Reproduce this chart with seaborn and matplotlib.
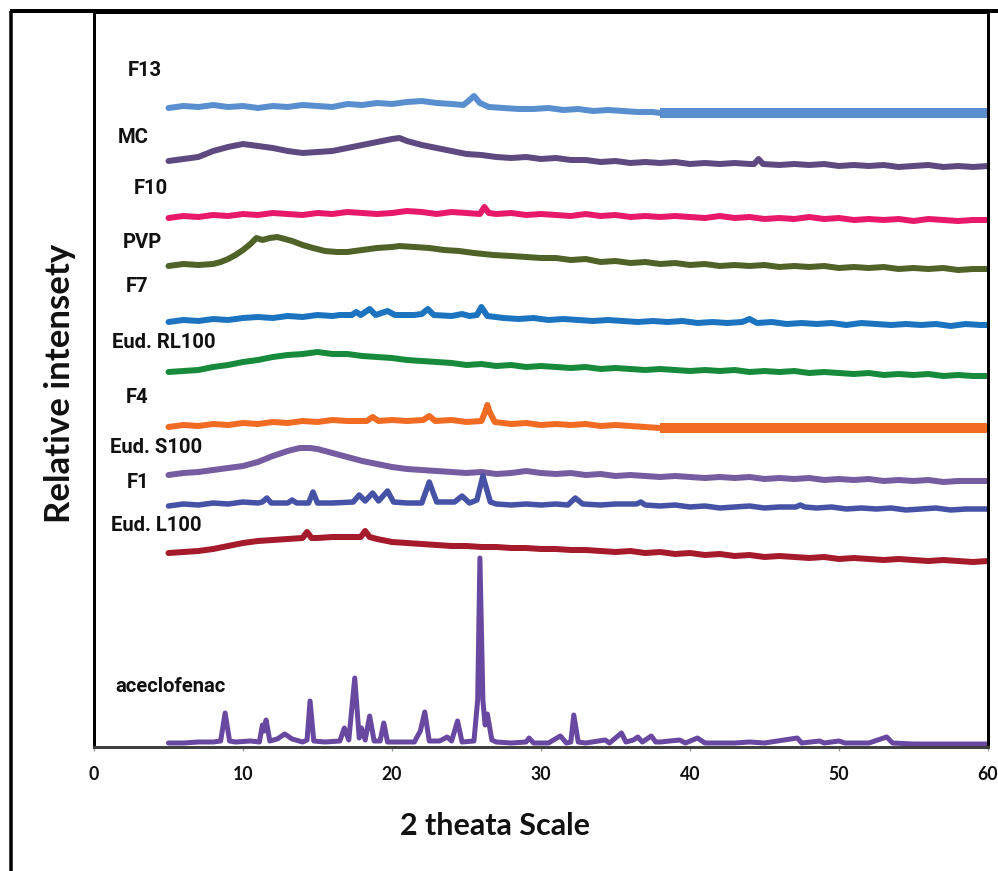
import matplotlib
matplotlib.use("Agg")
import matplotlib.pyplot as plt
import seaborn as sns
from matplotlib.lines import Line2D

# ---------------- data (2-theta in degrees, relative intensity incl. stacking offset) -------------
f13_theta = [5, 6, 7, 8, 9, 10, 11, 12, 13, 14, 15, 16, 17, 18, 19, 20, 21, 22, 23, 24, 24.8,
             25.2, 25.5, 25.9, 26.5, 27.5, 28.5, 29.5, 30.5, 31.5, 32.5, 33.5, 34.5, 35.5, 36.5, 37.5, 38]
f13_int = [639, 641, 640, 642, 640, 641, 639, 641, 640, 642, 641, 640, 643, 642, 644, 643, 645, 646,
           644, 643, 642, 647, 651, 644, 640, 639, 638, 638, 639, 637, 638, 636, 637, 636, 635, 635, 634]

mc_theta = [5, 6, 7, 8, 9, 10, 11, 12, 13, 14, 15, 16, 17, 18, 19, 20, 20.5, 21, 22, 23, 24, 25, 26,
            27, 28, 29, 30, 31, 32, 33, 34, 35, 36, 37, 38, 39, 40, 41, 42, 43, 44, 44.3, 44.6, 44.9,
            46, 47, 48, 49, 50, 51, 52, 53, 54, 55, 56, 57, 58, 59, 60]
mc_int = [586, 588, 590, 596, 600, 603, 601, 599, 596, 594, 595, 596, 599, 602, 605, 608, 609, 606,
          602, 599, 596, 593, 592, 590, 589, 590, 588, 589, 587, 587, 585, 586, 584, 585, 584, 585,
          583, 584, 583, 584, 583, 583, 588, 583, 582, 583, 582, 583, 581, 582, 581, 582, 580, 581,
          582, 580, 581, 580, 581]

f10_theta = [5, 6, 7, 8, 9, 10, 11, 12, 13, 14, 15, 16, 17, 18, 19, 20, 21, 22, 23, 24, 25, 25.9,
             26.2, 26.5, 27, 28, 29, 30, 31, 32, 33, 34, 35, 36, 37, 38, 39, 40, 41, 42, 43, 44, 45,
             46, 47, 48, 49, 50, 51, 52, 53, 54, 55, 56, 57, 58, 59, 60]
f10_int = [529, 531, 530, 532, 531, 533, 532, 534, 533, 532, 534, 533, 535, 534, 533, 534, 536, 535,
           533, 535, 534, 533, 540, 534, 533, 534, 532, 533, 532, 531, 533, 531, 532, 530, 531, 530,
           531, 530, 529, 531, 529, 530, 528, 529, 528, 530, 528, 529, 527, 528, 527, 528, 526, 528,
           527, 526, 527, 527]

pvp_theta = [5, 6, 7, 8, 8.5, 9, 9.5, 10, 10.5, 10.9, 11.3, 11.8, 12.3, 12.8, 13.3, 14, 14.7, 15.5,
             16.3, 17, 18, 19, 20, 20.5, 21.5, 22.5, 23.5, 24.5, 25.5, 26.8, 28, 29, 30, 31, 32, 33,
             34, 35, 36, 37, 38, 39, 40, 41, 42, 43, 44, 45, 46, 47, 48, 49, 50, 51, 52, 53, 54, 55,
             56, 57, 58, 59, 60]
pvp_int = [481, 483, 482, 483, 485, 488, 492, 497, 503, 509, 507, 509, 510, 508, 506, 502, 499, 496,
           495, 495, 497, 499, 500, 501, 500, 499, 497, 496, 494, 492, 491, 490, 489, 489, 487, 488,
           485, 486, 484, 485, 483, 484, 482, 483, 481, 482, 481, 482, 480, 481, 480, 481, 479, 480,
           479, 480, 478, 479, 478, 479, 477, 478, 478]

f7_theta = [5, 6, 7, 8, 9, 10, 11, 12, 13, 14, 15, 16, 16.5, 17.3, 17.6, 17.9, 18.5, 18.9, 19.7,
            20.2, 21.5, 22, 22.4, 22.8, 24, 24.7, 25.2, 25.7, 26, 26.4, 27.5, 28.5, 29.5, 30.5, 31.5,
            32.5, 33.5, 34.5, 35.5, 36.5, 37.5, 38.5, 39.5, 40.5, 41.5, 42.5, 43.5, 44, 44.5, 45.5,
            46.5, 47.5, 48.5, 49.5, 50.5, 51.5, 52.5, 53.5, 54.5, 55.5, 56.5, 57.5, 58.5, 59.5, 60]
f7_int = [425, 427, 426, 428, 427, 429, 430, 429, 431, 430, 432, 431, 432, 432, 435, 432, 438, 432,
          436, 432, 432, 433, 438, 432, 431, 433, 431, 432, 440, 431, 429, 428, 429, 427, 428, 427,
          426, 427, 426, 425, 426, 425, 426, 424, 425, 424, 425, 428, 424, 425, 423, 424, 423, 424,
          422, 424, 423, 422, 423, 422, 423, 421, 423, 422, 422]

rl100_theta = [5, 6, 7, 8, 9, 10, 11, 12, 13, 14, 15, 16, 17, 18, 19, 20, 21, 22, 23, 24, 25, 26, 27,
               28, 29, 30, 31, 32, 33, 34, 35, 36, 37, 38, 39, 40, 41, 42, 43, 44, 45, 46, 47, 48, 49,
               50, 51, 52, 53, 54, 55, 56, 57, 58, 59, 60]
rl100_int = [375, 376, 377, 380, 382, 385, 387, 390, 392, 393, 395, 393, 393, 391, 390, 389, 387, 386,
             385, 384, 382, 383, 381, 382, 380, 381, 380, 379, 380, 378, 379, 378, 377, 378, 377, 376,
             377, 376, 377, 375, 376, 375, 376, 374, 375, 374, 373, 374, 372, 373, 372, 373, 371, 372,
             371, 371]

f4_theta = [5, 6, 7, 8, 9, 10, 11, 12, 13, 14, 15, 16, 17, 18.3, 18.7, 19.1, 20, 21, 22.1, 22.5, 22.9,
            24, 25, 26, 26.25, 26.4, 26.55, 26.9, 28, 29, 30, 31, 32, 33, 34, 35, 36, 37, 38]
f4_int = [320, 322, 321, 323, 322, 324, 323, 325, 324, 326, 325, 327, 326, 326, 330, 326, 327, 326,
          327, 331, 326, 327, 325, 326, 335, 342, 335, 325, 323, 324, 322, 323, 322, 323, 321, 322,
          321, 320, 319]

s100_theta = [5, 6, 7, 8, 9, 10, 11, 12, 13, 13.8, 14.5, 15, 16, 17, 18, 19, 20, 21, 22, 23, 24, 25,
              26, 27, 28, 29, 30, 31, 32, 33, 34, 35, 36, 37, 38, 39, 40, 41, 42, 43, 44, 45, 46, 47,
              48, 49, 50, 51, 52, 53, 54, 55, 56, 57, 58, 59, 60]
s100_int = [272, 274, 275, 277, 279, 281, 285, 291, 296, 299, 299, 298, 294, 290, 286, 283, 280, 278,
            277, 276, 275, 274, 275, 273, 274, 276, 274, 273, 274, 272, 273, 271, 272, 271, 270, 271,
            270, 269, 270, 269, 270, 268, 269, 268, 269, 267, 268, 267, 268, 266, 267, 266, 267, 265,
            266, 266, 266]

f1_theta = [5, 6, 7, 8, 9, 10, 11, 11.3, 11.6, 11.9, 13, 13.3, 13.6, 14.4, 14.7, 15.0, 16, 17.4, 17.8,
            18.2, 18.7, 19.1, 19.7, 20.1, 21, 22, 22.5, 23, 24.2, 24.7, 25.2, 25.7, 26.1, 26.6, 27,
            28, 29, 30, 31, 31.8, 32.3, 32.8, 34, 35, 36.4, 36.7, 37, 38, 39, 40, 41, 42, 43, 44, 45,
            46, 47.1, 47.4, 47.7, 48.5, 49.5, 50.5, 51.5, 52.5, 53.5, 54.5, 55.5, 56.5, 57.5, 58.5,
            59.5, 60]
f1_int = [241, 243, 242, 244, 243, 245, 244, 245, 249, 244, 244, 247, 244, 244, 255, 244, 244, 245,
          252, 246, 254, 246, 256, 245, 244, 244, 265, 245, 245, 251, 244, 247, 271, 245, 243, 242,
          243, 242, 243, 242, 249, 243, 242, 243, 243, 245, 242, 241, 242, 240, 241, 239, 240, 241,
          239, 240, 240, 242, 240, 239, 240, 238, 239, 238, 239, 237, 238, 239, 237, 238, 238, 238]

l100_theta = [5, 6, 7, 8, 9, 10, 11, 12, 13, 14, 14.3, 14.6, 15, 16, 17, 17.9, 18.2, 18.5, 19, 20, 21,
              22, 23, 24, 25, 26, 27, 28, 29, 30, 31, 32, 33, 34, 35, 36, 37, 38, 39, 40, 41, 42, 43,
              44, 45, 46, 47, 48, 49, 50, 51, 52, 53, 54, 55, 56, 57, 58, 59, 60]
l100_int = [194, 195, 196, 198, 201, 204, 206, 207, 208, 209, 215, 209, 209, 210, 210, 210, 216, 210,
            208, 205, 204, 203, 202, 201, 201, 200, 200, 199, 199, 198, 198, 197, 197, 196, 195, 196,
            194, 195, 193, 194, 192, 193, 191, 192, 190, 191, 190, 189, 190, 188, 189, 188, 187, 188,
            187, 186, 187, 186, 185, 186]

acf_theta = [5, 6, 7, 8, 8.5, 8.8, 9.1, 9.5, 10.5, 11.1, 11.3, 11.42, 11.55, 11.8, 12.3, 12.8, 13.3,
             14.0, 14.3, 14.5, 14.75, 15.5, 16.5, 16.8, 17.1, 17.5, 17.8, 17.95, 18.2, 18.5, 18.8,
             19.2, 19.45, 19.7, 20.5, 21.5, 21.9, 22.2, 22.5, 23.2, 23.7, 24.0, 24.4, 24.7, 25.5,
             25.75, 25.9, 26.1, 26.25, 26.4, 26.7, 27, 28, 29, 29.2, 29.5, 30.5, 31.3, 31.7, 32.0,
             32.2, 32.5, 33, 34.3, 34.6, 35.4, 35.7, 36.2, 36.5, 36.8, 37.4, 37.7, 38, 39.3, 39.7,
             40.5, 40.9, 41, 43, 44, 45, 47.2, 47.5, 48.7, 49, 50, 50.4, 52, 53.2, 53.6, 55, 57, 60]
acf_int = [4, 4, 5, 5, 6, 34, 6, 5, 6, 5, 22, 16, 27, 6, 8, 13, 8,
           5, 7, 46, 6, 5, 6, 19, 7, 69, 9, 19, 7, 31, 6,
           6, 24, 5, 5, 5, 16, 35, 6, 6, 10, 6, 26, 5, 6,
           47, 189, 47, 22, 33, 7, 5, 4, 5, 9, 4, 4, 11, 4, 5,
           32, 5, 4, 7, 4, 14, 5, 7, 10, 5, 11, 5, 5, 7, 4,
           9, 5, 4, 4, 5, 4, 9, 4, 6, 4, 6, 4, 4, 10, 4, 3, 3, 3]

names = ["F13", "MC", "F10", "PVP", "F7", "Eud. RL100", "F4", "Eud. S100", "F1", "Eud. L100",
         "aceclofenac"]
thetas = [f13_theta, mc_theta, f10_theta, pvp_theta, f7_theta, rl100_theta, f4_theta, s100_theta,
          f1_theta, l100_theta, acf_theta]
intens = [f13_int, mc_int, f10_int, pvp_int, f7_int, rl100_int, f4_int, s100_int, f1_int, l100_int,
          acf_int]
# traces whose recorded pattern stops early are continued by a flat bar up to this angle
bar_end = 60

# ---------------- styling --------------------------------------------------------------
colors = ["#5A8FCF", "#5E4A80", "#E8196A", "#4F6228", "#1C74C0", "#178A3B", "#F26B22",
          "#765CA0", "#4552A6", "#A51B2C", "#6848A0"]
widths_px = [6, 6, 6, 6, 6, 6, 6, 6, 5.5, 6, 5]
label_pos = [(2.28, 677), (1.61, 610), (2.68, 559), (1.95, 505), (2.15, 461), (1.21, 405),
             (2.15, 350), (1.07, 300), (2.21, 265), (1.14, 222), (1.41, 61)]

sns.set_theme(style="white")
plt.rcParams['font.family'] = ['Lato', 'DejaVu Sans']

W, H = 998, 871
fig = plt.figure(figsize=(W / 100, H / 100), dpi=100)
ax = fig.add_axes([94 / W, (H - 747) / H, (988 - 94) / W, (747 - 12) / H])

PX = 0.72  # points per pixel at 100 dpi
for name, th, iv, col, lw, (lx, ly) in zip(names, thetas, intens, colors, widths_px, label_pos):
    sns.lineplot(x=th, y=iv, ax=ax, color=col, linewidth=lw * PX, estimator=None, sort=False,
                 legend=False, solid_joinstyle="round", solid_capstyle="round")
    if th[-1] < bar_end:
        sns.lineplot(x=[th[-1], bar_end + 0.15], y=[iv[-1], iv[-1]], ax=ax, color=col,
                     linewidth=10 * PX, estimator=None, sort=False, legend=False,
                     solid_capstyle="butt")
    ax.text(lx, ly, name, ha="left", va="center", fontsize=14.6, fontweight="bold",
            color="#111111", family=["Roboto", "DejaVu Sans"])

ax.set_xlim(0, 60)
ax.set_ylim(0, 735)
ax.set_xticks(range(0, 61, 10))
ax.set_yticks([])
ax.set_xlabel("")
ax.set_ylabel("")
for lab in ax.get_xticklabels():
    lab.set_fontweight("bold")
ax.tick_params(axis="x", which="major", bottom=True, length=4 * PX, width=1.0, color="#999999",
               pad=10.5, labelsize=12.7, labelcolor="#111111")

for side in ["left", "right", "top"]:
    ax.spines[side].set_visible(True)
    ax.spines[side].set_color("black")
    ax.spines[side].set_linewidth(3 * PX)
ax.spines["bottom"].set_color("#404040")
ax.spines["bottom"].set_linewidth(3 * PX)

fig.text(495 / W, 1 - 826 / H, "2 theata Scale", ha="center", va="center", fontsize=22,
         fontweight="bold", color="#111111")
fig.text(60 / W, 1 - 383 / H, "Relative intensety", ha="center", va="center", rotation=90,
         fontsize=25, fontweight="bold", color="#111111")

# outer frame (left and top edges)
fig.add_artist(Line2D([11 / W, 11 / W], [0, 1 - 11 / H], transform=fig.transFigure,
                      color="black", linewidth=3.5 * PX, solid_capstyle="butt"))
fig.add_artist(Line2D([9.5 / W, 1], [1 - 11 / H, 1 - 11 / H], transform=fig.transFigure,
                      color="black", linewidth=4 * PX, solid_capstyle="butt"))

fig.savefig("out.png", dpi=100, facecolor="white")
